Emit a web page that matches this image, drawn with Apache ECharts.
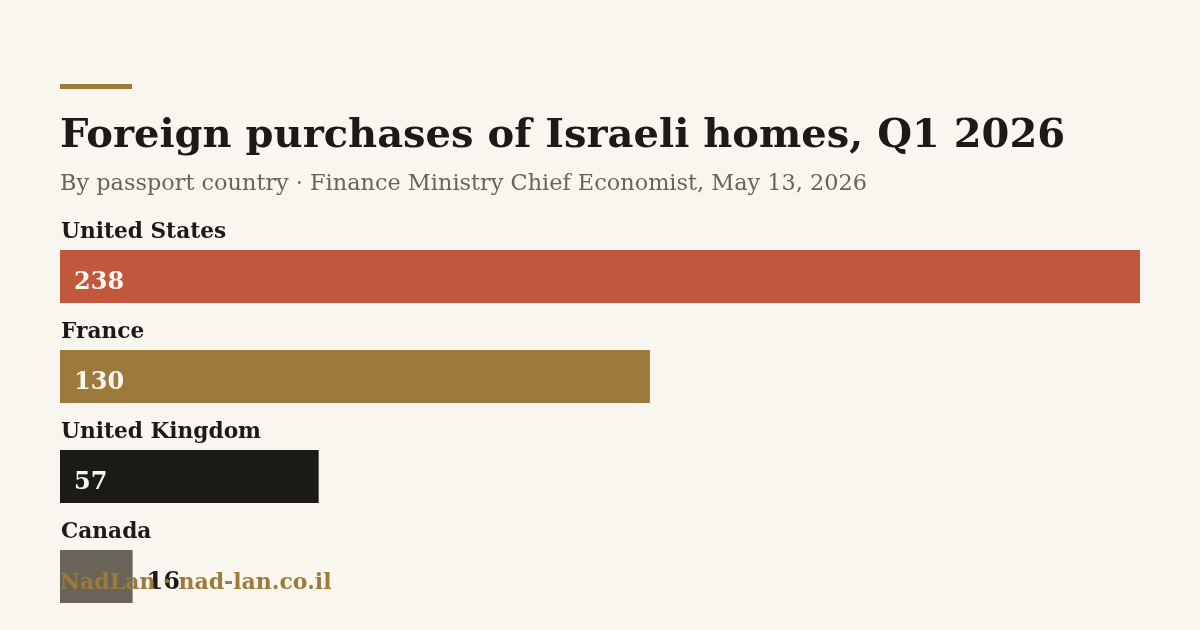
<!DOCTYPE html>
<html><head><meta charset="utf-8">
<script src="https://cdn.jsdelivr.net/npm/echarts@6/dist/echarts.min.js"></script>
<style>html,body{margin:0;padding:0;background:#f9f6f0;}#c{width:1200px;height:630px;}</style>
</head><body><div id="c"></div>
<script>
const countries = ["United States", "France", "United Kingdom", "Canada"];
const purchases = [238, 130, 57, 16];
const barColors = ["#c1583d", "#9c7a3c", "#1c1a16", "#6b6358"];
const labelInside = [true, true, true, false];
const titleText = "Foreign purchases of Israeli homes, Q1 2026";
const subtitleText = "By passport country · Finance Ministry Chief Economist, May 13, 2026";
const footerText = "NadLan · nad-lan.co.il";

const FONT = "Georgia, 'DejaVu Serif', serif";
const chart = echarts.init(document.getElementById('c'));
chart.setOption({
  backgroundColor: '#f9f6f0',
  animation: false,
  title: {
    text: titleText, subtext: subtitleText, left: 60, top: 117, padding: 0, itemGap: 16,
    textStyle: {fontFamily: FONT, fontSize: 40, fontWeight: 'bold', color: '#1c1a16'},
    subtextStyle: {fontFamily: FONT, fontSize: 22.4, color: '#6b6358'}
  },
  graphic: [
    {type: 'rect', left: 60, top: 84, shape: {width: 72, height: 5}, style: {fill: '#9c7a3c'}},
    {type: 'text', left: 60, top: 572, z: 3, style: {text: footerText, font: "bold 22px " + FONT, fill: '#9c7a3c'}}
  ],
  grid: {left: 60, right: 60, top: 226.5, bottom: 3.5},
  xAxis: {type: 'value', min: 0, max: 238, show: false},
  yAxis: {
    type: 'category', data: countries, inverse: true,
    axisLine: {show: false}, axisTick: {show: false}, splitLine: {show: false},
    axisLabel: {inside: true, margin: 1, align: 'left', verticalAlign: 'bottom',
      padding: [0, 0, 33, 0], fontFamily: FONT, fontSize: 21.7, fontWeight: 'bold', color: '#1c1a16'}
  },
  series: [{
    type: 'bar', barWidth: 53, z: 2,
    data: purchases.map((v, i) => ({
      value: v, itemStyle: {color: barColors[i]},
      label: labelInside[i]
        ? {position: 'insideLeft', distance: 14, color: '#f9f6f0'}
        : {position: 'right', distance: 14, color: '#1c1a16'}
    })),
    label: {show: true, fontFamily: FONT, fontSize: 24, fontWeight: 'bold', offset: [0, 6]}
  }]
});
</script></body></html>
